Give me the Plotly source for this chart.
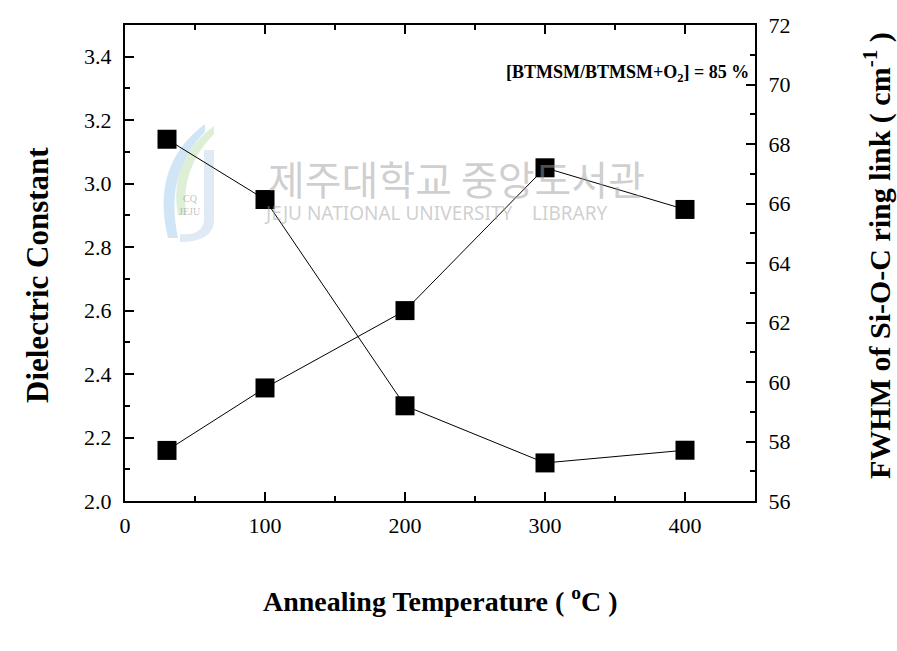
import plotly.graph_objects as go

# Annealing temperature (°C)
temperature = [30, 100, 200, 300, 400]
# Dielectric constant (left axis)
dielectric_k = [3.14, 2.95, 2.30, 2.12, 2.16]
# FWHM of the Si-O-C ring link band, cm^-1 (right axis)
fwhm_ring = [57.7, 59.8, 62.4, 67.2, 65.8]

x_ticks = [0, 100, 200, 300, 400]
k_ticks = [2.0, 2.2, 2.4, 2.6, 2.8, 3.0, 3.2, 3.4]
fwhm_ticks = [56, 58, 60, 62, 64, 66, 68, 70, 72]

SERIF = "Liberation Serif"
W, H = 897, 651
L, R, T, B = 125, 142, 25, 150

fig = go.Figure()

marker = dict(symbol="square", size=19, color="black", line=dict(width=0))
line = dict(color="black", width=1)

fig.add_trace(go.Scatter(x=temperature, y=dielectric_k, mode="lines+markers",
                         marker=marker, line=line, yaxis="y", showlegend=False))
fig.add_trace(go.Scatter(x=temperature, y=fwhm_ring, mode="lines+markers",
                         marker=marker, line=line, yaxis="y2", showlegend=False))

tickfont = dict(family=SERIF, size=22, color="black")
common = dict(showline=True, linewidth=2, linecolor="black", ticks="inside",
              ticklen=9, tickwidth=1.5, tickcolor="black", showgrid=False,
              zeroline=False, tickfont=tickfont)

fig.update_layout(
    width=W, height=H,
    margin=dict(l=L, r=R, t=T, b=B, pad=0),
    paper_bgcolor="white", plot_bgcolor="white",
    xaxis=dict(range=[0, 450], tickvals=x_ticks, mirror="ticks",
               minor=dict(dtick=50, tick0=0, ticks="inside", ticklen=5,
                          tickcolor="black", tickwidth=1.5),
               ticklabelstandoff=4, **common),
    yaxis=dict(range=[2.0, 3.5], tickvals=k_ticks, tickformat=".1f",
               minor=dict(dtick=0.1, tick0=2.0, ticks="inside", ticklen=5,
                          tickcolor="black", tickwidth=1.5),
               ticklabelstandoff=7, **common),
    yaxis2=dict(range=[56, 72], tickvals=fwhm_ticks, overlaying="y", side="right",
                minor=dict(dtick=1, tick0=56, ticks="inside", ticklen=5,
                           tickcolor="black", tickwidth=1.5),
                ticklabelstandoff=7, **common),
)


def px(xp):
    return (xp - L) / (W - L - R)


def py(yp):
    return 1 - (yp - T) / (H - T - B)


# Axis titles
fig.add_annotation(text="<b>Annealing Temperature ( <sup>o</sup>C )</b>",
                   xref="paper", yref="paper", x=px(440), y=py(599),
                   showarrow=False, font=dict(family=SERIF, size=28, color="black"),
                   xanchor="center", yanchor="middle")
fig.add_annotation(text="<b>Dielectric Constant</b>",
                   xref="paper", yref="paper", x=px(37), y=py(275),
                   textangle=-90, showarrow=False,
                   font=dict(family=SERIF, size=31, color="black"),
                   xanchor="center", yanchor="middle")
fig.add_annotation(text="<b>FWHM of Si-O-C ring link ( cm<sup>-1</sup> )</b>",
                   xref="paper", yref="paper", x=px(877), y=py(256),
                   textangle=-90, showarrow=False,
                   font=dict(family=SERIF, size=30, color="black"),
                   xanchor="center", yanchor="middle")

# Deposition condition label
fig.add_annotation(text="<b>[BTMSM/BTMSM+O<sub>2</sub>] = 85 %</b>",
                   xref="paper", yref="paper", x=px(751), y=py(74),
                   showarrow=False, font=dict(family=SERIF, size=18, color="black"),
                   xanchor="right", yanchor="middle")

# Library watermark
fig.add_annotation(text="제주대학교 중앙도서관", xref="paper", yref="paper",
                   x=px(266), y=py(178), xanchor="left", yanchor="middle",
                   showarrow=False,
                   font=dict(family="Noto Sans CJK KR", size=40, color="rgba(160,160,160,0.5)"))
fig.add_annotation(text="JEJU NATIONAL UNIVERSITY    LIBRARY", xref="paper", yref="paper",
                   x=px(262), y=py(213), xanchor="left", yanchor="middle",
                   showarrow=False,
                   font=dict(family="Noto Sans", size=19, color="rgba(160,160,160,0.5)"))
fig.add_annotation(text="JEJU", xref="paper", yref="paper", x=px(190), y=py(212),
                   showarrow=False, xanchor="center", yanchor="middle",
                   font=dict(family=SERIF, size=10, color="rgba(150,150,150,0.6)"))
fig.add_annotation(text="CQ", xref="paper", yref="paper", x=px(190), y=py(198),
                   showarrow=False, xanchor="center", yanchor="middle",
                   font=dict(family=SERIF, size=10, color="rgba(150,150,150,0.6)"))
# logo swooshes
fig.add_shape(type="path", xref="paper", yref="paper", layer="below",
              path=f"M {px(205)},{py(124)} Q {px(150)},{py(165)} {px(168)},{py(238)} "
                   f"L {px(178)},{py(238)} Q {px(164)},{py(172)} {px(205)},{py(132)} Z",
              fillcolor="rgba(120,180,225,0.35)", line=dict(width=0))
fig.add_shape(type="path", xref="paper", yref="paper", layer="below",
              path=f"M {px(214)},{py(126)} Q {px(168)},{py(160)} {px(178)},{py(215)} "
                   f"L {px(186)},{py(215)} Q {px(180)},{py(168)} {px(214)},{py(134)} Z",
              fillcolor="rgba(160,205,140,0.35)", line=dict(width=0))
fig.add_shape(type="path", xref="paper", yref="paper", layer="below",
              path=f"M {px(204)},{py(150)} L {px(214)},{py(150)} L {px(214)},{py(222)} "
                   f"Q {px(212)},{py(242)} {px(180)},{py(242)} L {px(180)},{py(234)} "
                   f"Q {px(204)},{py(236)} {px(204)},{py(218)} Z",
              fillcolor="rgba(150,185,220,0.3)", line=dict(width=0))

fig.write_html("out.html")
